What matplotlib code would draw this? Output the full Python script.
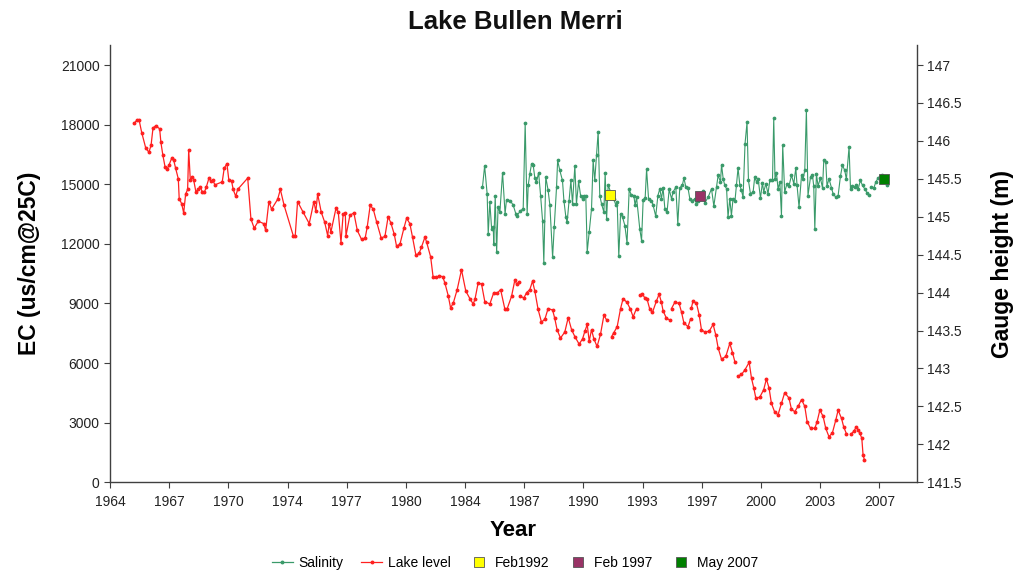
import matplotlib
matplotlib.use("Agg")
import matplotlib.pyplot as plt
from matplotlib.lines import Line2D

plt.rcParams["font.family"] = ["Liberation Sans", "DejaVu Sans"]

nan = float("nan")

# Lake level (gauge height, m) - right axis
level_year = [
    1965.59, 1965.74, 1965.87, 1966.02, 1966.24, 1966.42, 1966.54, 1966.65, 1966.80, 1967.02,
    1967.09, 1967.20, 1967.32, 1967.44, 1967.54, 1967.69, 1967.80, 1967.91, 1968.06, 1968.11,
    1968.25, 1968.36, 1968.47, 1968.58, 1968.64, 1968.73, 1968.84, 1968.92, 1969.04, 1969.17,
    1969.28, 1969.40, 1969.51, 1969.62, 1969.77, 1969.88, 1969.99, 1970.10, 1970.51, 1970.62,
    1970.77, 1970.88, 1971.03, 1971.12, 1971.26, 1971.37, 1971.93, 1972.11, 1972.29, 1972.52,
    1972.82, 1972.93, 1973.11, 1973.26, 1973.60, 1973.75, 1973.96, 1974.47, 1974.58, 1974.71,
    1975.02, 1975.36, 1975.62, 1975.73, 1975.83, 1976.03, 1976.22, 1976.39, 1976.47, 1976.57,
    1976.85, 1976.98, 1977.13, 1977.25, 1977.37, 1977.41, 1977.63, 1977.85, 1978.04, 1978.28,
    1978.48, 1978.59, 1978.76, 1978.93, 1979.12, 1979.37, 1979.58, 1979.76, 1979.91, 1980.10,
    1980.23, 1980.42, 1980.64, 1980.79, 1980.97, 1981.12, 1981.31, 1981.49, 1981.62, 1981.81,
    1981.90, 1982.13, 1982.27, 1982.42, 1982.61, 1982.80, 1982.92, 1983.11, 1983.24, 1983.39,
    1983.61, 1983.85, 1984.09, 1984.32, 1984.50, 1984.60, 1984.78, 1984.97, 1985.15, 1985.43,
    1985.65, 1985.84, 1986.03, 1986.27, 1986.40, 1986.64, 1986.83, 1986.92, 1987.06, nan,
    1987.14, 1987.33, 1987.48, 1987.66, 1987.81, 1987.94, 1988.12, 1988.31, 1988.50, 1988.68,
    1988.93, 1989.05, 1989.18, 1989.37, 1989.61, 1989.80, 1989.99, 1990.17, 1990.41, 1990.60,
    1990.73, 1990.86, 1990.97, 1991.10, 1991.23, 1991.41, 1991.60, 1991.79, 1991.94, nan,
    1992.22, 1992.34, 1992.53, 1992.72, 1992.86, 1993.08, 1993.27, 1993.42, 1993.61, nan,
    1993.79, 1993.94, 1994.07, 1994.20, 1994.35, 1994.50, 1994.72, 1994.87, 1995.00, 1995.09,
    1995.28, 1995.46, nan, 1995.56, 1995.74, 1995.98, 1996.12, 1996.25, 1996.48, 1996.62,
    nan, 1996.67, 1996.76, 1996.95, 1997.10, 1997.23, 1997.42, 1997.66, 1997.88, 1998.03,
    1998.16, 1998.35, 1998.59, 1998.81, 1998.96, 1999.09, nan, 1999.27, 1999.46, 1999.65,
    1999.89, 2000.02, 2000.15, 2000.26, 2000.48, 2000.70, 2000.85, 2001.00, 2001.13, 2001.32,
    2001.50, 2001.69, 2001.87, 2002.11, 2002.25, 2002.43, 2002.62, 2002.81, 2002.99, 2003.12,
    2003.31, 2003.55, 2003.68, 2003.83, 2004.01, 2004.16, 2004.34, 2004.53, 2004.72, 2004.85,
    2005.04, 2005.16, 2005.31, nan, 2005.59, 2005.72, 2005.87, 2005.96, 2006.05, 2006.17,
    2006.24, 2006.32,
]
level_m = [
    146.23, 146.27, 146.28, 146.11, 145.91, 145.85, 145.94, 146.17, 146.20, 146.16,
    145.98, 145.81, 145.66, 145.63, 145.68, 145.77, 145.75, 145.64, 145.50, 145.24,
    145.17, 145.05, 145.30, 145.36, 145.88, 145.48, 145.53, 145.48, 145.33, 145.36,
    145.39, 145.33, 145.32, 145.39, 145.51, 145.47, 145.48, 145.42, 145.46, 145.64,
    145.70, 145.48, 145.47, 145.36, 145.27, 145.36, 145.51, 144.97, 144.85, 144.94,
    144.91, 144.82, 145.20, 145.10, 145.23, 145.36, 145.15, 144.75, 144.75, 145.20,
    145.06, 144.91, 145.20, 145.07, 145.30, 145.06, 144.93, 144.75, 144.91, 144.80,
    145.11, 145.06, 144.66, 145.03, 145.05, 144.75, 145.02, 145.05, 144.82, 144.70,
    144.72, 144.86, 145.15, 145.10, 144.93, 144.72, 144.74, 145.00, 144.92, 144.77,
    144.61, 144.64, 144.85, 144.98, 144.91, 144.73, 144.49, 144.52, 144.60, 144.73,
    144.67, 144.47, 144.20, 144.20, 144.22, 144.21, 144.13, 143.96, 143.80, 143.86,
    144.04, 144.30, 144.02, 143.92, 143.85, 143.91, 144.13, 144.11, 143.88, 143.85,
    144.00, 143.99, 144.04, 143.78, 143.79, 143.95, 144.17, 144.11, 144.14, nan,
    143.95, 143.93, 144.00, 144.04, 144.15, 144.02, 143.78, 143.61, 143.65, 143.79,
    143.77, 143.66, 143.51, 143.40, 143.48, 143.67, 143.51, 143.42, 143.32, 143.39,
    143.49, 143.58, 143.36, 143.51, 143.39, 143.29, 143.45, 143.70, 143.64, nan,
    143.42, 143.47, 143.55, 143.79, 143.92, 143.87, 143.78, 143.68, 143.79, nan,
    143.97, 143.98, 143.93, 143.91, 143.78, 143.74, 143.89, 143.98, 143.87, 143.76,
    143.66, 143.64, nan, 143.79, 143.87, 143.86, 143.74, 143.60, 143.55, 143.65,
    nan, 143.80, 143.89, 143.86, 143.71, 143.51, 143.48, 143.49, 143.58, 143.44,
    143.27, 143.12, 143.16, 143.33, 143.21, 143.09, nan, 142.90, 142.92, 142.98,
    143.08, 142.87, 142.74, 142.61, 142.62, 142.72, 142.86, 142.74, 142.54, 142.42,
    142.39, 142.54, 142.68, 142.61, 142.46, 142.43, 142.50, 142.59, 142.50, 142.30,
    142.21, 142.21, 142.30, 142.45, 142.37, 142.21, 142.10, 142.15, 142.32, 142.45,
    142.34, 142.23, 142.14, nan, 142.14, 142.17, 142.23, 142.19, 142.15, 142.08,
    141.86, 141.79,
]

# Salinity (EC, us/cm@25C) - left axis
salinity_year = [
    1985.02, 1985.14, 1985.28, 1985.34, 1985.43, 1985.53, 1985.62, 1985.65, 1985.73, 1985.81,
    1985.89, 1985.99, 1986.14, 1986.28, 1986.36, 1986.55, 1986.73, 1986.88, 1986.95, 1987.14,
    1987.29, 1987.40, 1987.51, 1987.57, 1987.66, 1987.76, 1987.85, 1987.94, 1988.03, 1988.15,
    1988.26, 1988.37, 1988.44, 1988.55, 1988.68, 1988.78, 1988.93, 1989.02, 1989.15, 1989.21,
    1989.33, 1989.48, 1989.56, 1989.67, 1989.74, 1989.85, 1989.95, 1990.04, 1990.17, 1990.26,
    1990.38, 1990.49, 1990.60, 1990.67, 1990.78, 1990.86, 1990.97, 1991.10, 1991.19, 1991.28,
    1991.38, 1991.47, 1991.56, 1991.66, 1991.79, 1991.86, 1991.94, 1992.03, 1992.16, 1992.34,
    1992.45, 1992.53, 1992.62, 1992.72, 1992.83, 1992.96, 1993.08, 1993.20, 1993.31, 1993.46,
    1993.53, 1993.61, 1993.79, 1993.89, 1993.98, 1994.09, 1994.17, 1994.28, 1994.44, 1994.53,
    1994.68, 1994.80, 1994.91, 1995.00, 1995.09, 1995.19, 1995.31, 1995.43, 1995.56, 1995.65,
    1995.80, 1995.91, 1996.02, 1996.17, 1996.25, 1996.36, 1996.48, 1996.58, 1996.73, 1996.86,
    1996.95, 1997.04, 1997.29, 1997.42, 1997.60, 1997.79, 1997.92, 1998.07, 1998.16, 1998.29,
    1998.35, 1998.44, 1998.53, 1998.63, 1998.71, 1998.81, 1998.90, 1998.99, 1999.10, 1999.18,
    1999.27, 1999.37, 1999.46, 1999.55, 1999.66, 1999.77, 1999.85, 1999.96, 2000.11, 2000.20,
    2000.30, 2000.39, 2000.52, 2000.63, 2000.70, 2000.82, 2000.94, 2001.04, 2001.19, 2001.26,
    2001.33, 2001.41, 2001.50, 2001.60, 2001.69, 2001.76, 2001.87, 2002.00, 2002.11, 2002.25,
    2002.38, 2002.49, 2002.56, 2002.67, 2002.81, 2002.90, 2002.99, 2003.08, 2003.17, 2003.31,
    2003.42, 2003.49, 2003.55, 2003.64, 2003.73, 2003.86, 2003.98, 2004.05, 2004.16, 2004.23,
    2004.34, 2004.48, 2004.57, 2004.72, 2004.85, 2004.98, 2005.09, 2005.22, 2005.31, 2005.46,
    2005.54, 2005.65, 2005.78, 2005.87, 2005.96, 2006.09, 2006.21, 2006.33, 2006.46, 2006.57,
    nan, 2006.71, 2006.84, 2006.95, 2007.08, 2007.27, 2007.45, 2007.58,
]
salinity_ec = [
    14860, 15920, 14520, 12500, 14100, 12750, 12830, 11990, 14400, 11570,
    13850, 13590, 15580, 13510, 14230, 14180, 13960, 13510, 13420, 13670,
    13760, 18060, 13510, 14940, 15530, 16040, 15950, 15310, 15110, 15580,
    14430, 13170, 11060, 15360, 14690, 13930, 11320, 12830, 14860, 16200,
    15700, 15190, 14180, 13340, 13090, 14180, 15190, 14010, 15920, 14010,
    15140, 14430, 14270, 14430, 14430, 11600, 12580, 13760, 16200, 15190,
    16460, 17640, 14430, 14010, 13590, 15580, 13250, 14970, 14610, 14270,
    13960, 14100, 11370, 13510, 13340, 12920, 12040, 14740, 14470, 14430,
    13930, 14350, 12750, 12160, 14230, 14300, 15750, 14270, 14180, 13960,
    13390, 14430, 14770, 14270, 14810, 13760, 13590, 14740, 14270, 14610,
    14860, 13000, 14810, 14970, 15310, 14860, 14810, 14270, 14180, 14270,
    14010, 14180, 14640, 14060, 14350, 14770, 13900, 14860, 15450, 15110,
    15990, 15280, 14940, 14770, 13340, 14270, 13420, 14270, 14180, 14940,
    15820, 14940, 14690, 14350, 17050, 18110, 15190, 14520, 14610, 15360,
    15110, 15280, 14300, 15080, 14610, 15030, 14520, 15190, 15190, 18310,
    15280, 15580, 14770, 15110, 13420, 16960, 14610, 15030, 14910, 15450,
    15030, 15820, 14940, 13850, 15450, 15280, 15700, 18730, 14430, 15360,
    15450, 14910, 12750, 15530, 14910, 15310, 14810, 16200, 16120, 14910,
    15280, 14810, 14520, 14350, 14430, 15410, 15950, 15700, 15240, 16880,
    14740, 14910, 14860, 14970, 14740, 15190, 14940, 14770, 14570, 14470,
    nan, 14860, 14810, 15110, 15310, 15480, 15280, 14970,
]

# Sampling events (EC)
sample_labels = ["Feb1992", "Feb 1997", "May 2007"]
sample_year = [1992.12, 1997.13, 2007.39]
sample_ec = [14470, 14420, 15280]
sample_colors = ["#FFFF00", "#993366", "#008000"]

year_labels = ["1964", "1967", "1970", "1974", "1977", "1980", "1984",
               "1987", "1990", "1993", "1997", "2000", "2003", "2007"]
ec_ticks = [0, 3000, 6000, 9000, 12000, 15000, 18000, 21000]
level_ticks = [141.5, 142, 142.5, 143, 143.5, 144, 144.5, 145, 145.5, 146, 146.5, 147]

green = "#3a9a6a"
red = "#ff2020"
axis_col = "#404040"
text_col = "#222222"

fig = plt.figure(figsize=(10.22, 5.72), dpi=100)
ax = fig.add_axes([0.1076, 0.157, 0.7897, 0.764])
ax2 = ax.twinx()

ax.plot(salinity_year, salinity_ec, color=green, lw=0.8, marker="o", ms=1.7,
        label="Salinity")
for lab, yr, ec, col in zip(sample_labels, sample_year, sample_ec, sample_colors):
    ax.plot([yr], [ec], ls="none", marker="s", ms=7, mfc=col, mec="#555555",
            mew=0.6, label=lab, zorder=5)
ax2.plot(level_year, level_m, color=red, lw=0.9, marker="o", ms=1.8,
         label="Lake level")

# x axis: Excel-style date ticks every ~3.3 years
tick_pos = [1964.25 + 3.3 * i for i in range(len(year_labels))]
ax.set_xlim(1964.25, 2009.25)
ax.set_xticks(tick_pos)
ax.set_xticklabels(year_labels)

ec_top = 22000
ax.set_ylim(0, ec_top)
ax.set_yticks(ec_ticks)
ax.set_yticklabels([str(v) for v in ec_ticks])
ax2.set_ylim(141.5, 141.5 + 5.5 * ec_top / 21000)
ax2.set_yticks(level_ticks)
ax2.set_yticklabels([f"{v:g}" for v in level_ticks])

for a in (ax, ax2):
    a.spines["top"].set_visible(False)
    for s in ("left", "right", "bottom"):
        a.spines[s].set_color(axis_col)
        a.spines[s].set_linewidth(1.0)
    a.tick_params(colors=axis_col, labelcolor=text_col, labelsize=10,
                  length=4, width=0.8, direction="out")
ax.tick_params(axis="x", pad=5)
ax.spines["right"].set_visible(False)
ax2.spines["left"].set_visible(False)
ax2.spines["bottom"].set_visible(False)

ax.set_xlabel("Year", fontsize=16, fontweight="bold", labelpad=8)
ax.set_ylabel("EC (us/cm@25C)", fontsize=16.5, fontweight="bold")
ax.yaxis.set_label_coords(-0.086, 0.5)
ax2.set_ylabel("Gauge height (m)", fontsize=16.5, fontweight="bold")
ax2.yaxis.set_label_coords(1.092, 0.5)

fig.text(0.504, 0.962, "Lake Bullen Merri", ha="center", va="center",
         fontsize=18.5, fontweight="bold", color="#111111")

handles = [
    Line2D([], [], color=green, lw=0.9, marker="o", ms=1.8),
    Line2D([], [], color=red, lw=0.9, marker="o", ms=1.8),
]
labels = ["Salinity", "Lake level"]
for lab, col in zip(sample_labels, sample_colors):
    handles.append(Line2D([], [], ls="none", marker="s", ms=6.5, mfc=col,
                          mec="#555555", mew=0.6))
    labels.append(lab)
fig.legend(handles, labels, loc="center", bbox_to_anchor=(0.504, 0.016),
           ncol=5, frameon=False, fontsize=10, handlelength=1.5,
           handletextpad=0.4, columnspacing=1.3)

fig.savefig("out.png", dpi=100)
plt.close(fig)
